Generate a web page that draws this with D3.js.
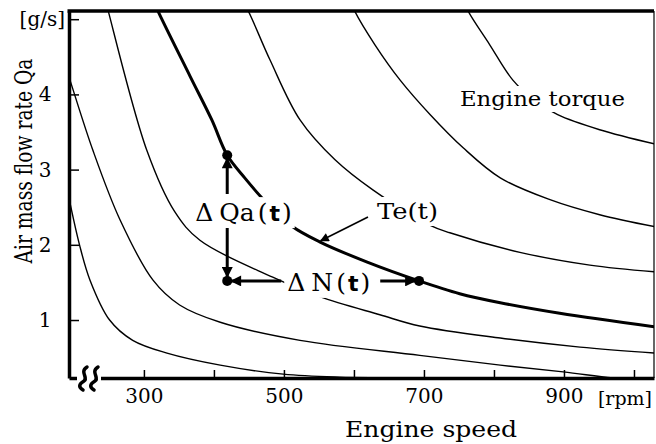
<!DOCTYPE html>
<html>
<head>
<meta charset="utf-8">
<script src="https://cdn.jsdelivr.net/npm/d3@7"></script>
<style>
  body { margin: 0; background: #fff; }
  svg text { font-family: "DejaVu Serif", "Noto Sans CJK JP", serif; fill: #000; }
</style>
</head>
<body>
<script>
// iso-torque lines: [engine speed rpm, air mass flow g/s]
let curveA = [[193, 2.62], [208, 2.0], [223, 1.53], [251, 1.0], [284, 0.73], [333, 0.56], [409, 0.40], [499, 0.28], [580, 0.24], [661, 0.23], [740, 0.2]];
let curveB = [[185, 4.45], [193, 4.23], [227, 3.26], [266, 2.33], [313, 1.53], [351, 1.2], [409, 0.97], [523, 0.73], [694, 0.53], [809, 0.40], [899, 0.31], [970, 0.23], [1040, 0.17]];
let curveC = [[245, 5.25], [249, 5.11], [304, 3.26], [344, 2.44], [380, 2.06], [484, 1.57], [551, 1.31], [637, 1.07], [694, 0.92], [809, 0.76], [923, 0.64], [1030, 0.56]];
let curveTe = [[316, 5.2], [320, 5.11], [366, 4.24], [397, 3.66], [419, 3.19], [444, 2.89], [473, 2.58], [511, 2.25], [551, 2.04], [619, 1.77], [693, 1.52], [751, 1.35], [809, 1.23], [894, 1.09], [1030, 0.91]];
let curveE = [[440, 5.25], [449, 5.11], [480, 4.46], [523, 3.66], [573, 3.13], [627, 2.73], [709, 2.26], [737, 2.16], [837, 1.90], [937, 1.73], [1030, 1.64]];
let curveF = [[595, 5.25], [601, 5.11], [630, 4.66], [666, 4.19], [709, 3.73], [756, 3.29], [809, 2.89], [880, 2.60], [951, 2.40], [1030, 2.24]];
let curveG = [[757, 5.25], [763, 5.11], [794, 4.66], [827, 4.19], [858, 3.92], [891, 3.73], [951, 3.53], [1030, 3.34]];

let thinCurves = [curveA, curveB, curveC, curveE, curveF, curveG];

// operating points on Te(t)
let opPoints = [[419, 3.19], [419, 1.52], [693, 1.52]];
let tePointer = [551, 2.04];

let xTicks = [300, 400, 500, 600, 700, 800, 900, 1000];
let xTickLabels = ["300", "", "500", "", "700", "", "900", ""];
let yTicks = [1, 2, 3, 4, 5];
let yTickLabels = ["1", "2", "3", "4", "[g/s]"];

let width = 656, height = 444;
let pL = 69, pR = 654, pT = 11, pB = 378;

let svg = d3.select("body").append("svg")
    .attr("width", width)
    .attr("height", height);

let x = d3.scaleLinear().domain([193, 1028.6]).range([pL, pR]);
let y = d3.scaleLinear().domain([0.229, 5.109]).range([pB, pT]);

let defs = svg.append("defs");
defs.append("clipPath").attr("id", "plot")
    .append("rect")
    .attr("x", pL).attr("y", pT)
    .attr("width", pR - pL).attr("height", pB - pT);

defs.append("marker")
    .attr("id", "head")
    .attr("viewBox", "0 -5 10 10")
    .attr("refX", 9).attr("refY", 0)
    .attr("markerWidth", 12).attr("markerHeight", 11)
    .attr("markerUnits", "userSpaceOnUse")
    .attr("orient", "auto")
    .append("path").attr("d", "M0,-5L10,0L0,5Z").attr("fill", "#000");
defs.append("marker")
    .attr("id", "headSmall")
    .attr("viewBox", "0 -5 10 10")
    .attr("refX", 9).attr("refY", 0)
    .attr("markerWidth", 12).attr("markerHeight", 9)
    .attr("markerUnits", "userSpaceOnUse")
    .attr("orient", "auto")
    .append("path").attr("d", "M0,-5L10,0L0,5Z").attr("fill", "#000");

let line = d3.line()
    .x(d => x(d[0]))
    .y(d => y(d[1]))
    .curve(d3.curveCatmullRom.alpha(0.5));

let curves = svg.append("g").attr("clip-path", "url(#plot)");

curves.selectAll(".thin")
    .data(thinCurves)
    .enter()
    .append("path")
    .attr("class", "thin")
    .attr("d", line)
    .attr("fill", "none")
    .attr("stroke", "#000")
    .attr("stroke-width", 1.4);

curves.append("path")
    .datum(curveTe)
    .attr("d", line)
    .attr("fill", "none")
    .attr("stroke", "#000")
    .attr("stroke-width", 3);

//axes
let xAxis = svg.append("g")
    .attr("transform", `translate(0,${pB})`)
    .call(d3.axisBottom(x).tickValues(xTicks).tickSize(-8).tickSizeOuter(0)
        .tickPadding(11).tickFormat((d, i) => xTickLabels[i]));
xAxis.select(".domain").attr("stroke-width", 3.5);
xAxis.selectAll(".tick line").attr("stroke-width", 1.5);
xAxis.attr("font-family", null);
xAxis.selectAll(".tick text")
    .attr("font-size", 20);

let yAxis = svg.append("g")
    .attr("transform", `translate(${pL},0)`)
    .call(d3.axisLeft(y).tickValues(yTicks).tickSize(-10).tickSizeOuter(0).tickFormat(""));
yAxis.select(".domain").attr("stroke-width", 3.5);
yAxis.selectAll(".tick line").attr("stroke-width", 1.5);

svg.selectAll(".ylab")
    .data(yTicks)
    .enter()
    .append("text")
    .attr("class", "ylab")
    .attr("x", (d, i) => i == yTicks.length - 1 ? 65 : 45)
    .attr("y", d => y(d) + 7)
    .attr("text-anchor", (d, i) => i == yTicks.length - 1 ? "end" : "middle")
    .attr("font-size", 20)
    .text((d, i) => yTickLabels[i]);

svg.append("text")
    .attr("x", 652).attr("y", 405)
    .attr("text-anchor", "end")
    .attr("font-size", 19)
    .text("[rpm]");

// frame top and right
svg.append("line")
    .attr("x1", pL - 1.5).attr("x2", pR)
    .attr("y1", pT).attr("y2", pT)
    .attr("stroke", "#000").attr("stroke-width", 3.5);
svg.append("line")
    .attr("x1", pR).attr("x2", pR)
    .attr("y1", pT).attr("y2", pB)
    .attr("stroke", "#000").attr("stroke-width", 1.2);

// axis break
svg.append("rect")
    .attr("x", 77).attr("y", pB - 4)
    .attr("width", 24).attr("height", 8)
    .attr("fill", "#fff");
svg.selectAll(".brk")
    .data([84, 95])
    .enter()
    .append("path")
    .attr("class", "brk")
    .attr("d", c => `M${c + 3},${pB - 11} C${c - 5},${pB - 6} ${c + 5},${pB} ${c},${pB + 3} S${c - 6},${pB + 9} ${c - 1},${pB + 12}`)
    .attr("fill", "none")
    .attr("stroke", "#000")
    .attr("stroke-width", 3.5)
    .attr("stroke-linecap", "round");

// axis titles
svg.append("text")
    .attr("x", 431).attr("y", 437)
    .attr("text-anchor", "middle")
    .attr("font-size", 23)
    .attr("textLength", 172)
    .attr("lengthAdjust", "spacingAndGlyphs")
    .text("Engine speed");

svg.append("text")
    .attr("transform", "translate(32,161) rotate(-90)")
    .attr("text-anchor", "middle")
    .attr("font-size", 24)
    .attr("textLength", 205)
    .attr("lengthAdjust", "spacingAndGlyphs")
    .text("Air mass flow rate Qa");

// labels with white box behind
function boxed(t, pad) {
    let b = t.node().getBBox();
    d3.select(t.node().parentNode).insert("rect", () => t.node())
        .attr("x", b.x - pad).attr("y", b.y - pad + 2)
        .attr("width", b.width + 2 * pad).attr("height", b.height + 2 * pad - 4)
        .attr("fill", "#fff");
}

let labels = svg.append("g");

let torque = labels.append("text")
    .attr("x", 460).attr("y", 106)
    .attr("font-size", 20)
    .attr("textLength", 165)
    .attr("lengthAdjust", "spacingAndGlyphs")
    .text("Engine torque");
boxed(torque, 3);

let teLabel = labels.append("text")
    .attr("x", 377).attr("y", 219)
    .attr("font-size", 22)
    .attr("textLength", 61)
    .attr("lengthAdjust", "spacingAndGlyphs")
    .text("Te(t)");
boxed(teLabel, 4);

let px = x(opPoints[0][0]), pyTop = y(opPoints[0][1]), pyBot = y(opPoints[1][1]);
let pxR = x(opPoints[2][0]);

function deltaLabel(g, x0, y0, name) {
    let t = g.append("text").attr("x", x0).attr("y", y0).attr("font-size", 25);
    t.append("tspan").text("Δ");
    t.append("tspan").attr("dx", 6).text(name);
    t.append("tspan").attr("dx", 3).text("(");
    t.append("tspan").attr("dx", 2)
        .style("font-family", "'DejaVu Sans', sans-serif")
        .attr("font-weight", "bold").attr("font-size", 22).text("t");
    t.append("tspan").attr("dx", 2).text(")");
    return t;
}

let dq = deltaLabel(labels, px - 32, (pyTop + pyBot) / 2 + 3, "Qa");
boxed(dq, 3);
let dn = deltaLabel(labels, px + 60, pyBot + 10, "N");
boxed(dn, 3);

// arrows
let arrows = [
    [px, 194, px, pyTop + 3],
    [px, 228, px, pyBot - 4],
    [px + 54, pyBot, px + 4, pyBot],
    [px + 153, pyBot, pxR - 4, pyBot]
];
svg.selectAll(".arr")
    .data(arrows)
    .enter()
    .append("line")
    .attr("class", "arr")
    .attr("x1", d => d[0]).attr("y1", d => d[1])
    .attr("x2", d => d[2]).attr("y2", d => d[3])
    .attr("stroke", "#000")
    .attr("stroke-width", 3)
    .attr("marker-end", "url(#head)");

svg.append("line")
    .attr("x1", 368).attr("y1", 217)
    .attr("x2", x(tePointer[0]) + 1).attr("y2", y(tePointer[1]) - 1)
    .attr("stroke", "#000")
    .attr("stroke-width", 1.6)
    .attr("marker-end", "url(#headSmall)");

svg.selectAll(".op")
    .data(opPoints)
    .enter()
    .append("circle")
    .attr("class", "op")
    .attr("cx", d => x(d[0]))
    .attr("cy", d => y(d[1]))
    .attr("r", 5)
    .attr("fill", "#000");
</script>
</body>
</html>
